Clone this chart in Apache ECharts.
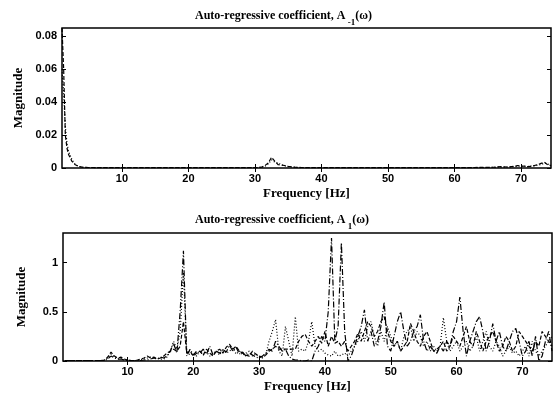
<!DOCTYPE html>
<html>
<head>
<meta charset="utf-8">
<script src="https://cdn.jsdelivr.net/npm/echarts@6/dist/echarts.min.js"></script>
<style>
  html, body { margin: 0; padding: 0; background: #fff; }
  #main { width: 557px; height: 400px; }
</style>
</head>
<body>
<div id="main"></div>
<script>
// top panel: A_-1(w), sparse samples
var topFreq = [1, 1.25, 1.5, 1.75, 2, 2.5, 3, 3.5, 4, 5, 10, 20, 30, 31, 31.5, 32, 32.5, 33, 33.5, 34,
  34.5, 35, 36, 37, 40, 50, 60, 63, 65, 66, 67, 68, 69, 69.5, 70, 70.5, 71, 71.5, 72, 72.5,
  73, 73.5, 74, 74.5];
var topDashed = [0.085, 0.06, 0.02, 0.012, 0.008, 0.004, 0.002, 0.001, 0.0005, 0.0003, 0.0002, 0.0002, 0.0002, 0.0005, 0.0015, 0.003, 0.0065, 0.004, 0.002, 0.0018,
  0.0015, 0.001, 0.0005, 0.0003, 0.0002, 0.0002, 0.0002, 0.0003, 0.0004, 0.0005, 0.0008, 0.0006, 0.001, 0.0015, 0.001, 0.0012, 0.0008, 0.001, 0.0015, 0.002,
  0.0028, 0.0035, 0.002, 0.0015];
var topDotted = [0.06, 0.045, 0.025, 0.015, 0.01, 0.005, 0.002, 0.001, 0.0005, 0.0003, 0.0002, 0.0002, 0.0002, 0.0004, 0.001, 0.0025, 0.005, 0.0035, 0.003, 0.002,
  0.0012, 0.0008, 0.0004, 0.0002, 0.0002, 0.0002, 0.0002, 0.0002, 0.0003, 0.0004, 0.0006, 0.0005, 0.0008, 0.001, 0.0012, 0.001, 0.0009, 0.0012, 0.0012, 0.0018,
  0.002, 0.003, 0.0025, 0.0012];

// bottom panel: A_1(w), 0.5 Hz steps from 0.5 to 74.5 (one row = 5 Hz)
var botFreq = [];
for (var f = 0.5; f <= 74.5; f += 0.5) botFreq.push(f);

var botDashDot = [
  0.005, 0.005, 0.005, 0.005, 0.005, 0.005, 0.005, 0.005, 0.005, 0.005,
  0.005, 0.005, 0.005, 0.02, 0.05, 0.03, 0.02, 0.02, 0.01, 0.01,
  0.005, 0.005, 0.005, 0.005, 0.01, 0.01, 0.02, 0.03, 0.02, 0.04,
  0.03, 0.05, 0.1, 0.18, 0.08, 0.5, 1.12, 0.05, 0.12, 0.06,
  0.1, 0.08, 0.12, 0.07, 0.15, 0.06, 0.1, 0.08, 0.12, 0.09,
  0.16, 0.1, 0.14, 0.07, 0.09, 0.05, 0.08, 0.06, 0.04, 0.03,
  0.05, 0.08, 0.12, 0.1, 0.2, 0.15, 0.1, 0.12, 0.05, 0.02,
  0.01, 0.01, 0, 0, 0.01, 0, 0.1, 0.15, 0.25, 0.2,
  0.5, 1.25, 0.2, 0.35, 1.2, 0.3, 0, 0.05, 0.15, 0.25,
  0.35, 0.52, 0.2, 0.3, 0.15, 0.2, 0.35, 0.6, 0.15, 0.1,
  0.25, 0.4, 0.5, 0.3, 0.15, 0.2, 0.3, 0.35, 0.47, 0.2,
  0.1, 0.15, 0.1, 0.08, 0.15, 0.1, 0.2, 0.15, 0.3, 0.4,
  0.65, 0.3, 0.05, 0.2, 0.3, 0.4, 0.45, 0.3, 0.1, 0.2,
  0.38, 0.2, 0.3, 0.15, 0.1, 0.2, 0.3, 0.33, 0.2, 0.05,
  0.1, 0.2, 0.05, 0.25, 0, 0.05, 0.2, 0.3, 0.1
];
var botDotted = [
  0.005, 0.005, 0.005, 0.005, 0.005, 0.005, 0.005, 0.005, 0.005, 0.005,
  0.005, 0.005, 0.01, 0.03, 0.07, 0.04, 0.02, 0.03, 0.01, 0.005,
  0.005, 0.005, 0.005, 0.01, 0.02, 0.03, 0.04, 0.02, 0.03, 0.02,
  0.02, 0.04, 0.1, 0.2, 0.12, 0.3, 0.9, 0.1, 0.06, 0.08,
  0.05, 0.1, 0.06, 0.09, 0.05, 0.08, 0.1, 0.06, 0.12, 0.08,
  0.1, 0.13, 0.07, 0.1, 0.06, 0.08, 0.1, 0.05, 0.07, 0.04,
  0.03, 0.06, 0.2, 0.3, 0.42, 0.1, 0.05, 0.35, 0.2, 0.05,
  0.45, 0.1, 0.12, 0.1, 0.2, 0.4, 0.15, 0.1, 0.12, 0.08,
  0.06, 0.05, 0.1, 0.05, 0.06, 0.08, 0.05, 0.1, 0.15, 0.2,
  0.3, 0.2, 0.35, 0.4, 0.25, 0.15, 0.3, 0.2, 0.35, 0.25,
  0.15, 0.2, 0.1, 0.25, 0.3, 0.35, 0.2, 0.3, 0.25, 0.15,
  0.2, 0.1, 0.15, 0.1, 0.15, 0.44, 0.2, 0.1, 0.15, 0.2,
  0.1, 0.15, 0.2, 0.1, 0.15, 0.25, 0.1, 0.2, 0.3, 0.15,
  0.1, 0.2, 0.15, 0.05, 0.1, 0.15, 0.08, 0.1, 0.05, 0.1,
  0.15, 0.05, 0.2, 0.1, 0.05, 0.1, 0.15, 0.2, 0.25
];
var botDashed = [
  0.005, 0.005, 0.005, 0.005, 0.005, 0.005, 0.005, 0.005, 0.005, 0.005,
  0.005, 0.005, 0.01, 0.04, 0.09, 0.05, 0.03, 0.04, 0.02, 0.01,
  0.005, 0.005, 0.01, 0.02, 0.03, 0.05, 0.03, 0.04, 0.02, 0.03,
  0.05, 0.08, 0.1, 0.12, 0.1, 0.15, 0.4, 0.08, 0.1, 0.05,
  0.08, 0.1, 0.06, 0.12, 0.08, 0.05, 0.1, 0.12, 0.08, 0.14,
  0.17, 0.12, 0.15, 0.1, 0.08, 0.06, 0.05, 0.1, 0.07, 0.05,
  0.04, 0.06, 0.1, 0.12, 0.15, 0.12, 0.12, 0.12, 0.12, 0.12,
  0.12, 0.2, 0.25, 0.27, 0.2, 0.15, 0.2, 0.25, 0.18, 0.3,
  0.15, 0.25, 0.18, 0.2, 0.15, 0.2, 0.1, 0.15, 0.2, 0.28,
  0.2, 0.3, 0.4, 0.35, 0.25, 0.3, 0.4, 0.45, 0.3, 0.2,
  0.15, 0.2, 0.1, 0.15, 0.2, 0.38, 0.3, 0.2, 0.15, 0.25,
  0.3, 0.2, 0.1, 0.12, 0.15, 0.2, 0.1, 0.15, 0.25, 0.2,
  0.15, 0.25, 0.35, 0.2, 0.15, 0.3, 0.2, 0.1, 0.2, 0.25,
  0.3, 0.2, 0.1, 0.15, 0.25, 0.2, 0.1, 0.15, 0.3, 0.25,
  0.2, 0.15, 0.1, 0.2, 0.15, 0.3, 0.25, 0.2, 0.15
];

var xTicks = [10, 20, 30, 40, 50, 60, 70];
var topYTicks = [0, 0.02, 0.04, 0.06, 0.08];
var botYTicks = [0, 0.5, 1];

function pairs(xs, ys) {
  return xs.map(function (x, i) { return [x, ys[i]]; });
}

var serif = '"Liberation Serif", "Times New Roman", serif';
var sans = '"Liberation Sans", Arial, sans-serif';

function xAxisFor(idx, min, pos) {
  var main = pos === 'bottom';
  return {
    type: 'value', gridIndex: idx, position: pos, min: min, max: 74.5,
    name: main ? 'Frequency [Hz]' : '', nameLocation: 'middle', nameGap: 19,
    nameTextStyle: { fontFamily: serif, fontWeight: 'bold', fontSize: 13, color: '#000' },
    axisLine: { show: false },
    axisTick: { show: true, inside: true, length: 4, customValues: xTicks, lineStyle: { color: '#000' } },
    axisLabel: { show: main, customValues: xTicks, margin: 5, fontFamily: sans, fontWeight: 'bold', fontSize: 11, color: '#000' },
    splitLine: { show: false }
  };
}

function yAxisFor(idx, max, ticks, pos) {
  var main = pos === 'left';
  return {
    type: 'value', gridIndex: idx, position: pos, min: 0, max: max,
    name: main ? 'Magnitude' : '', nameLocation: 'middle', nameGap: 35, nameRotate: 90,
    nameTextStyle: { fontFamily: serif, fontWeight: 'bold', fontSize: 13, color: '#000' },
    axisLine: { show: false },
    axisTick: { show: true, inside: true, length: 4, customValues: ticks, lineStyle: { color: '#000' } },
    axisLabel: { show: main, customValues: ticks, margin: 5, fontFamily: sans, fontWeight: 'bold', fontSize: 11, color: '#000' },
    splitLine: { show: false }
  };
}

function line(name, data, xi, yi, dash) {
  return {
    name: name, type: 'line', xAxisIndex: xi, yAxisIndex: yi,
    data: data, symbol: 'none', animation: false,
    lineStyle: { color: '#000', width: 1.2, type: dash }
  };
}

function titleFor(sub, top) {
  return {
    text: '{t|Auto-regressive coefficient, A}{s| ' + sub + '}{t|(ω)}',
    left: 190, top: top,
    textStyle: {
      rich: {
        t: { fontFamily: serif, fontWeight: 'bold', fontSize: 12, color: '#000', lineHeight: 22, verticalAlign: 'middle' },
        s: { fontFamily: serif, fontWeight: 'bold', fontSize: 9, color: '#000', lineHeight: 9, verticalAlign: 'bottom' }
      }
    }
  };
}

var dom = document.getElementById('main');
var myChart = echarts.init(dom, null, { renderer: 'canvas' });

var option = {
  backgroundColor: '#fff',
  animation: false,
  title: [titleFor('-1', 0), titleFor('1', 204)],
  grid: [
    { left: 62, right: 6, top: 28, height: 140, show: true, borderColor: '#000', borderWidth: 1.5, backgroundColor: 'transparent' },
    { left: 63, right: 5, top: 233, height: 128, show: true, borderColor: '#000', borderWidth: 1.5, backgroundColor: 'transparent' }
  ],
  xAxis: [
    xAxisFor(0, 1, 'bottom'), xAxisFor(0, 1, 'top'),
    xAxisFor(1, 0.2, 'bottom'), xAxisFor(1, 0.2, 'top')
  ],
  yAxis: [
    yAxisFor(0, 0.085, topYTicks, 'left'), yAxisFor(0, 0.085, topYTicks, 'right'),
    yAxisFor(1, 1.3, botYTicks, 'left'), yAxisFor(1, 1.3, botYTicks, 'right')
  ],
  series: [
    line('A-1 dashed', pairs(topFreq, topDashed), 0, 0, [4, 2]),
    line('A-1 dotted', pairs(topFreq, topDotted), 0, 0, [1, 2]),
    line('A1 dash-dot', pairs(botFreq, botDashDot), 2, 2, [6, 2, 1, 2]),
    line('A1 dotted', pairs(botFreq, botDotted), 2, 2, [1, 2]),
    line('A1 dashed', pairs(botFreq, botDashed), 2, 2, [4, 2])
  ]
};

if (option && typeof option === 'object') {
  myChart.setOption(option);
}

window.addEventListener('resize', myChart.resize);
</script>
</body>
</html>
